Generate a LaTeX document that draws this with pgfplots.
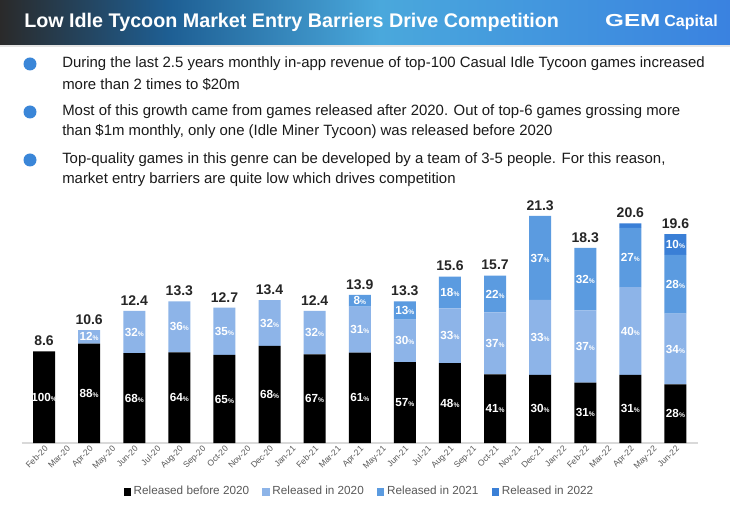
\documentclass[border=0pt]{standalone}
\usepackage{pgfplots}
\pgfplotsset{compat=1.18}
\usepackage{pgfplotstable}
\usepackage{fontspec}
\setmainfont{Liberation Sans}
\definecolor{c2020}{HTML}{8DB4E8}
\definecolor{c2021}{HTML}{5B9BE0}
\definecolor{c2022}{HTML}{3A7FD6}
\definecolor{bulletc}{HTML}{3A86D8}
\definecolor{txt}{HTML}{1A1A1A}
\definecolor{hdA}{HTML}{2A2A2A}
\definecolor{hdB}{HTML}{1E5F94}
\definecolor{hdC}{HTML}{4AA8DC}
\definecolor{hdD}{HTML}{3A82E0}
\definecolor{axgray}{HTML}{D9D9D9}
\definecolor{tickgray}{HTML}{595959}

% values in $m (segment sizes)
\pgfplotstableread{
x y
0 8.6
2 9.33
4 8.43
6 8.51
8 8.26
10 9.11
12 8.31
14 8.48
16 7.58
18 7.49
20 6.44
22 6.39
24 5.67
26 6.39
28 5.49
}\before
\pgfplotstableread{
x y
0 0
2 1.27
4 3.97
6 4.79
8 4.44
10 4.29
12 4.09
14 4.31
16 3.99
18 5.15
20 5.81
22 7.03
24 6.77
26 8.24
28 6.66
}\rtwenty
\pgfplotstableread{
x y
0 0
2 0
4 0
6 0
8 0
10 0
12 0
14 1.11
16 1.73
18 2.96
20 3.45
22 7.88
24 5.86
26 5.56
28 5.49
}\rtwentyone
\pgfplotstableread{
x y
0 0
2 0
4 0
6 0
8 0
10 0
12 0
14 0
16 0
18 0
20 0
22 0
24 0
26 0.41
28 1.96
}\rtwentytwo
\pgfplotstableread{
x y l
0 4.30 100
2 4.665 88
2 9.965 12
4 4.215 68
4 10.415 32
6 4.255 64
6 10.905 36
8 4.13 65
8 10.48 35
10 4.555 68
10 11.255 32
12 4.155 67
12 10.355 32
14 4.24 61
14 10.635 31
14 13.345 8
16 3.79 57
16 9.575 30
16 12.435 13
18 3.745 48
18 10.065 33
18 14.12 18
20 3.22 41
20 9.345 37
20 13.975 22
22 3.195 30
22 9.905 33
22 17.36 37
24 2.835 31
24 9.055 37
24 15.37 32
26 3.195 31
26 10.51 40
26 17.41 27
28 2.745 28
28 8.82 34
28 14.895 28
28 18.62 10
}\seglabels
\pgfplotstableread{
x y l
0 8.6 8.6
2 10.6 10.6
4 12.4 12.4
6 13.3 13.3
8 12.7 12.7
10 13.4 13.4
12 12.4 12.4
14 13.9 13.9
16 13.3 13.3
18 15.6 15.6
20 15.7 15.7
22 21.3 21.3
24 18.3 18.3
26 20.6 20.6
28 19.6 19.6
}\totals

\pgfplotsset{
  basefr/.style={
    scale only axis,
    width=507.375pt, height=182.25pt,
    at={(16.125pt,-332.25pt)}, anchor=south west,
    xmin=-1, xmax=29, ymin=0, ymax=22.8,
    enlargelimits=false,
    clip=false,
  }
}

\begin{document}
\begin{tikzpicture}
\useasboundingbox (0,0) rectangle (547.5pt,-378.75pt);
\fill[white] (0,0) rectangle (547.5pt,-378.75pt);
\begin{scope}[x=0.75pt,y=-0.75pt]
  \shade[left color=hdA, right color=hdB] (0,0) rectangle (170,45);
  \shade[left color=hdB, right color=hdC] (170,0) rectangle (380,45);
  \shade[left color=hdC, right color=hdD] (380,0) rectangle (730,45);
  \fill[axgray!70] (0,45) rectangle (730,47);
  \node[anchor=west, inner sep=0, text=white, font=\fontsize{14.8}{16}\selectfont\bfseries] at (24,22) {Low Idle Tycoon Market Entry Barriers Drive Competition};
  \node[anchor=east, inner sep=0, text=white] at (718,22) {\scalebox{1.4}[1]{\fontsize{13}{13}\selectfont\bfseries GEM}\hspace{3pt}{\fontsize{12}{12}\selectfont\bfseries Capital}};
  \fill[bulletc] (30,64) circle (6.5);
  \fill[bulletc] (30,112) circle (6.5);
  \fill[bulletc] (30,160) circle (6.5);
  \begin{scope}[every node/.style={anchor=west, inner sep=0, text=txt, font=\fontsize{11.2}{13}\selectfont}]
    \node at (62,64) {During the last 2.5 years monthly in-app revenue of top-100 Casual Idle Tycoon games increased};
    \node at (62,84) {more than 2 times to \$20m};
    \node at (62,112) {Most of this growth came from games released after 2020. Out of top-6 games grossing more};
    \node at (62,132) {than \$1m monthly, only one (Idle Miner Tycoon) was released before 2020};
    \node at (62,160) {Top-quality games in this genre can be developed by a team of 3-5 people. For this reason,};
    \node at (62,180) {market entry barriers are quite low which drives competition};
  \end{scope}
\end{scope}

\begin{axis}[basefr,
  ybar stacked, bar width=16.5pt,
  axis y line=none,
  axis x line*=bottom,
  x axis line style={axgray, line width=1pt, -},
  xtick={0,...,28},
  xticklabels={Feb-20,Mar-20,Apr-20,May-20,Jun-20,Jul-20,Aug-20,Sep-20,Oct-20,Nov-20,Dec-20,Jan-21,Feb-21,Mar-21,Apr-21,May-21,Jun-21,Jul-21,Aug-21,Sep-21,Oct-21,Nov-21,Dec-21,Jan-22,Feb-22,Mar-22,Apr-22,May-22,Jun-22},
  major tick length=0pt,
  xticklabel style={rotate=45, anchor=north east, inner sep=1pt, font=\fontsize{6.4}{7}\selectfont, text=tickgray},
  legend columns=4,
  legend style={at={(0.5,-0.2)}, anchor=center, draw=none, fill=none,
    font=\fontsize{8.8}{10}\selectfont, text=tickgray,
    /tikz/every even column/.append style={column sep=8pt}},
]
\addplot[fill=black, draw=none, legend image code/.code={\fill[black] (0pt,-3pt) rectangle (5.5pt,3pt);}] table[x=x,y=y] {\before};
\addlegendentry{Released before 2020}
\addplot[fill=c2020, draw=none, legend image code/.code={\fill[c2020] (0pt,-3pt) rectangle (5.5pt,3pt);}] table[x=x,y=y] {\rtwenty};
\addlegendentry{Released in 2020}
\addplot[fill=c2021, draw=none, legend image code/.code={\fill[c2021] (0pt,-3pt) rectangle (5.5pt,3pt);}] table[x=x,y=y] {\rtwentyone};
\addlegendentry{Released in 2021}
\addplot[fill=c2022, draw=none, legend image code/.code={\fill[c2022] (0pt,-3pt) rectangle (5.5pt,3pt);}] table[x=x,y=y] {\rtwentytwo};
\addlegendentry{Released in 2022}
\end{axis}

\begin{axis}[basefr, hide axis]
\addplot[draw=none, mark=none, point meta=explicit symbolic,
  nodes near coords={\pgfplotspointmeta{\fontsize{5}{5}\selectfont\%}},
  every node near coord/.style={anchor=center, inner sep=0pt, text=white, font=\fontsize{8.8}{9}\selectfont\bfseries}]
  table[x=x,y=y,meta=l] {\seglabels};
\addplot[draw=none, mark=none, point meta=explicit symbolic,
  nodes near coords,
  every node near coord/.style={anchor=south, inner sep=0pt, yshift=4pt, text=black!85, font=\fontsize{10.5}{11}\selectfont\bfseries}]
  table[x=x,y=y,meta=l] {\totals};
\end{axis}
\end{tikzpicture}
\end{document}
